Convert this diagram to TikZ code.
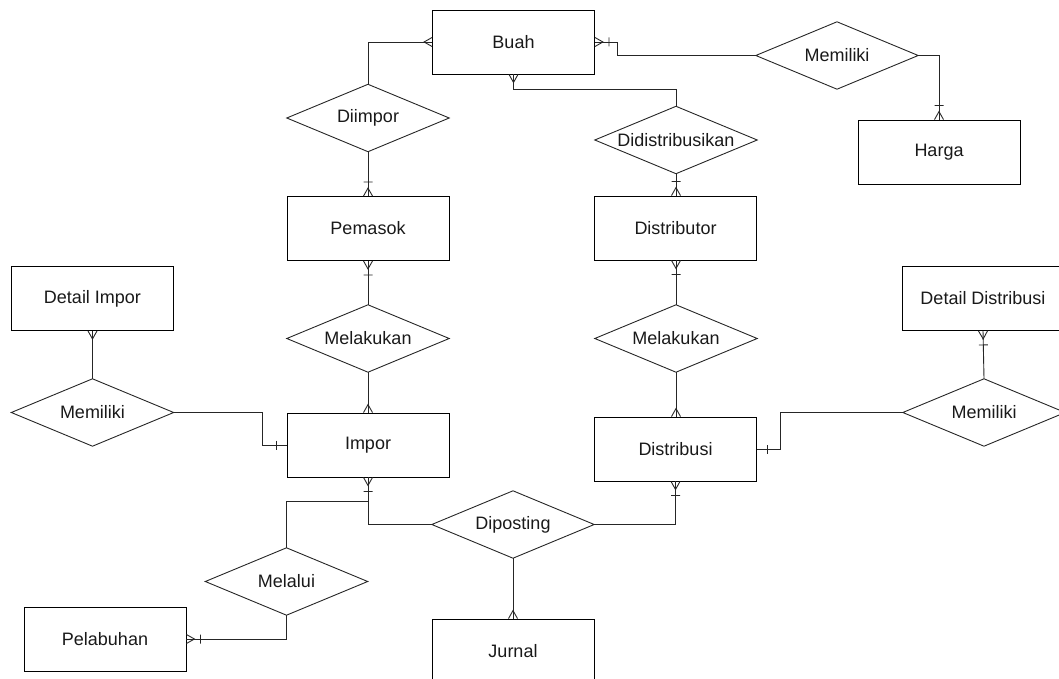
\documentclass[tikz,border=0pt]{standalone}
\usepackage{fontspec}
\setmainfont{Liberation Sans}
\usetikzlibrary{arrows.meta,calc}
\pgfdeclarearrow{
  name = ERmany,
  setup code = {
    \pgfarrowssettipend{0pt}
    \pgfarrowssetlineend{0pt}
    \pgfarrowssetbackend{-8pt}
    \pgfarrowsupperhullpoint{0pt}{4.5pt}
    \pgfarrowsupperhullpoint{-8pt}{0pt}
  },
  drawing code = {
    \pgfsetdash{}{0pt}
    \pgfpathmoveto{\pgfqpoint{0pt}{4.5pt}}
    \pgfpathlineto{\pgfqpoint{-8pt}{0pt}}
    \pgfpathlineto{\pgfqpoint{0pt}{-4.5pt}}
    \pgfusepathqstroke
  }
}
\pgfdeclarearrow{
  name = ERmanyone,
  setup code = {
    \pgfarrowssettipend{0pt}
    \pgfarrowssetlineend{0pt}
    \pgfarrowssetbackend{-14pt}
    \pgfarrowsupperhullpoint{0pt}{4.5pt}
    \pgfarrowsupperhullpoint{-14pt}{4.5pt}
  },
  drawing code = {
    \pgfsetdash{}{0pt}
    \pgfpathmoveto{\pgfqpoint{0pt}{4.5pt}}
    \pgfpathlineto{\pgfqpoint{-8pt}{0pt}}
    \pgfpathlineto{\pgfqpoint{0pt}{-4.5pt}}
    \pgfpathmoveto{\pgfqpoint{-14pt}{4.5pt}}
    \pgfpathlineto{\pgfqpoint{-14pt}{-4.5pt}}
    \pgfusepathqstroke
  }
}
\pgfdeclarearrow{
  name = ERone,
  setup code = {
    \pgfarrowssettipend{0pt}
    \pgfarrowssetlineend{0pt}
    \pgfarrowssetbackend{-14pt}
    \pgfarrowsupperhullpoint{0pt}{0pt}
    \pgfarrowsupperhullpoint{-14pt}{4.5pt}
  },
  drawing code = {
    \pgfsetdash{}{0pt}
    \pgfpathmoveto{\pgfqpoint{-10pt}{4.5pt}}
    \pgfpathlineto{\pgfqpoint{-10pt}{-4.5pt}}
    \pgfusepathqstroke
  }
}
\begin{document}
\begin{tikzpicture}[x=1pt,y=-1pt,
  every node/.style={font=\fontsize{18}{21}\selectfont, text=black!90},
  entity/.style={draw, line width=0.9pt, minimum width=162pt, minimum height=64pt, inner sep=0pt},
  rel/.style={minimum width=162pt, minimum height=67pt, inner sep=0pt},
  conn/.style={line width=0.9pt, draw=black!85}]
\clip (0,0) rectangle (1059,679);
% entities
\node[entity] (buah) at (513.5,42) {Buah};
\node[entity] (harga) at (939,152) {Harga};
\node[entity] (pemasok) at (368,228.5) {Pemasok};
\node[entity] (distributor) at (675.5,228) {Distributor};
\node[entity] (detimpor) at (92.5,298.5) {Detail Impor};
\node[entity] (detdist) at (983,298.5) {Detail Distribusi};
\node[entity] (impor) at (368,445) {Impor};
\node[entity] (distribusi) at (675.5,449) {Distribusi};
\node[entity] (pelabuhan) at (105,639) {Pelabuhan};
\node[entity] (jurnal) at (513,651) {Jurnal};
% relationships
\node[rel] (mem1) at (837,55.5) {Memiliki};
\node[rel] (diimpor) at (368,118) {Diimpor};
\node[rel] (did) at (676,140) {Didistribusikan};
\node[rel] (mel1) at (368,338.5) {Melakukan};
\node[rel] (mel2) at (676,338.5) {Melakukan};
\node[rel] (mem2) at (92.5,412.5) {Memiliki};
\node[rel] (mem3) at (984,412.5) {Memiliki};
\node[rel] (dip) at (513,524.5) {Diposting};
\node[rel] (melalui) at (286.5,581.5) {Melalui};
\foreach \n in {mem1,diimpor,did,mel1,mel2,mem2,mem3,dip,melalui}
  \draw[conn] (\n.west) -- (\n.north) -- (\n.east) -- (\n.south) -- cycle;
% connectors
\draw[conn,-ERmany] (diimpor.north) |- (buah.west);
\draw[conn,-ERmanyone] (mem1.west) -- ++(-138,0) |- (buah.east);
\draw[conn,-ERmanyone] (mem1.east) -| (harga.north);
\draw[conn,-ERmany] (did.north) -- ++(0,-17) -| (buah.south);
\draw[conn,-ERmanyone] (diimpor.south) -- (pemasok.north);
\draw[conn,-ERmanyone] (did.south) -- (did.south |- distributor.north);
\draw[conn,-ERmanyone] (mel1.north) -- (pemasok.south);
\draw[conn,-ERmany] (mel1.south) -- (impor.north);
\draw[conn,-ERmanyone] (mel2.north) -- (mel2.north |- distributor.south);
\draw[conn,-ERmany] (mel2.south) -- (mel2.south |- distribusi.north);
\draw[conn,-ERmany] (mem2.north) -- (detimpor.south);
\draw[conn,-ERone] (mem2.east) -- ++(89,0) |- (impor.west);
\draw[conn,-ERone] (mem3.west) -- ++(-122,0) |- (distribusi.east);
\draw[conn,-ERmanyone] (mem3.north) -- (detdist.south);
\draw[conn,-ERmanyone] (dip.west) -| (impor.south);
\coordinate (br) at ($(impor.south)+(0,24)$);
\draw[conn] (br) -| (melalui.north);
\draw[conn,-ERmanyone] (dip.east) -| (distribusi.south);
\draw[conn,-ERmany] (dip.south) -- (jurnal.north);
\draw[conn,-ERmanyone] (melalui.south) |- (pelabuhan.east);
\end{tikzpicture}
\end{document}
